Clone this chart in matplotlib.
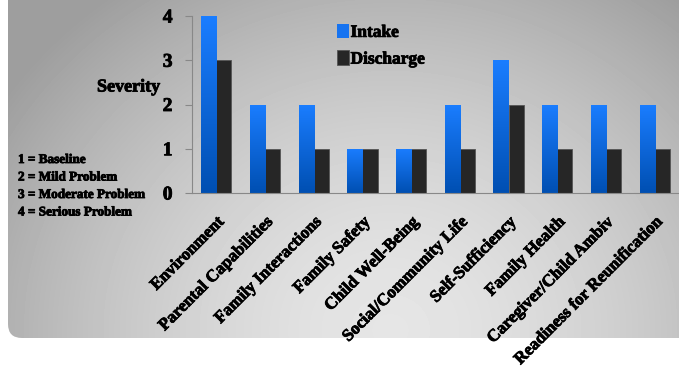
import numpy as np
import matplotlib.pyplot as plt
import matplotlib.patheffects as pe
from matplotlib.patches import FancyBboxPatch
from matplotlib.colors import LinearSegmentedColormap

categories = ['Environment', 'Parental Capabilities', 'Family Interactions', 'Family Safety',
              'Child Well-Being', 'Social/Community Life', 'Self-Sufficiency', 'Family Health',
              'Caregiver/Child Ambiv', 'Readiness for Reunification']
intake = [4, 2, 2, 1, 1, 2, 3, 2, 2, 2]
discharge = [3, 1, 1, 1, 1, 1, 2, 1, 1, 1]
yticks = [0, 1, 2, 3, 4]
scale_notes = ['1 = Baseline', '2 = Mild Problem', '3 = Moderate Problem', '4 = Serious Problem']

plt.rcParams['font.family'] = ['Liberation Serif', 'DejaVu Serif']
heavy = [pe.withStroke(linewidth=0.6, foreground='black')]

W, H = 679, 372
fig = plt.figure(figsize=(W / 100, H / 100), dpi=100)
fig.patch.set_facecolor('white')

# grey rounded backdrop with a soft radial shade
bg = fig.add_axes([0, 0, 1, 1], zorder=0)
bg.set_xlim(0, W)
bg.set_ylim(H, 0)
bg.axis('off')
yy, xx = np.mgrid[0:H, 0:W]
r = np.sqrt(((xx - 390) / 420.0) ** 2 + ((yy - 330) / 380.0) ** 2)
shade = np.clip(0.90 - 0.24 * r ** 1.6, 0.62, 0.90)
img = bg.imshow(shade, cmap='gray', vmin=0, vmax=1, extent=(0, W, H, 0), aspect='auto')
panel = FancyBboxPatch((8, -20), W + 20, 358, boxstyle='round,pad=0,rounding_size=14',
                       transform=bg.transData, facecolor='none', edgecolor='none')
bg.add_patch(panel)
img.set_clip_path(panel)

ax = fig.add_axes([192 / W, 1 - 193 / H, 1 - 192 / W, (193 - 16) / H], zorder=1)
ax.patch.set_alpha(0)

x = np.arange(len(categories))
w = 0.31
b1 = ax.bar(x - w / 2, intake, w, color='#1673f0', edgecolor='none')
b2 = ax.bar(x + w / 2, discharge, w, color='#262626', edgecolor='#555555', linewidth=0.6)

# vertical gradient inside each intake bar
grad = np.linspace(0, 1, 64).reshape(-1, 1)
blue_cmap = LinearSegmentedColormap.from_list('b', ['#004fb2', '#1a7dff'])
for bar in b1:
    bx, by = bar.get_x(), bar.get_y()
    bw, bh = bar.get_width(), bar.get_height()
    im = ax.imshow(grad, cmap=blue_cmap, extent=(bx, bx + bw, by, by + bh),
                   origin='lower', aspect='auto', zorder=2)
    im.set_clip_path(bar)

ax.set_xlim(-0.5, len(categories) - 0.5)
ax.set_ylim(0, 4)
ax.set_yticks(yticks)
ax.set_yticklabels([str(t) for t in yticks], fontsize=14, fontweight='bold')
ax.set_xticks(x)
ax.set_xticklabels(categories, rotation=45, ha='right', rotation_mode='anchor',
                   fontsize=12.3, fontweight='bold')
ax.tick_params(axis='x', length=0, pad=15)
ax.tick_params(axis='y', length=5, color='#888888', pad=9)
for lbl in ax.get_xticklabels() + ax.get_yticklabels():
    lbl.set_path_effects(heavy)
for s in ['top', 'right']:
    ax.spines[s].set_visible(False)
ax.spines['left'].set_color('#888888')
ax.spines['bottom'].set_color('#888888')

leg = ax.legend([b1, b2], ['Intake', 'Discharge'], loc='upper left',
                bbox_to_anchor=(0.265, 1.045), frameon=False, handlelength=0.7,
                handleheight=0.9, handletextpad=0.1, labelspacing=0.55,
                prop={'size': 12.5, 'weight': 'bold'})
for t in leg.get_texts():
    t.set_path_effects(heavy)

fig.text(97 / W, 1 - 87 / H, 'Severity', fontsize=13, fontweight='bold', va='center',
         path_effects=heavy)
for i, note in enumerate(scale_notes):
    fig.text(18 / W, 1 - (160 + i * 17.5) / H, note, fontsize=9.5, fontweight='bold',
             va='center', path_effects=heavy)

fig.savefig('out.png', dpi=100)
